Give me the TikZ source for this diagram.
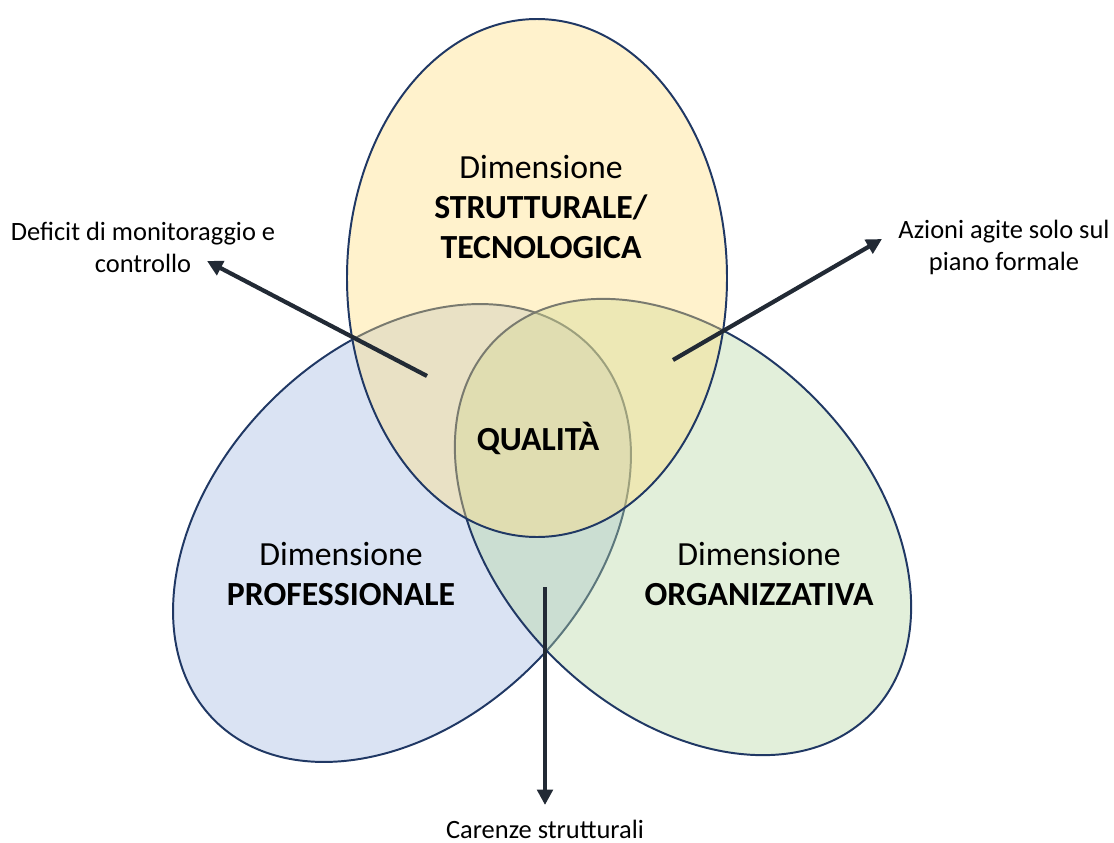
\documentclass[tikz,border=0pt]{standalone}
\usepackage{fontspec}
\setmainfont{Carlito}
\usetikzlibrary{arrows.meta, positioning}

\definecolor{lineNavy}{RGB}{32,56,100}
\definecolor{arrowDark}{RGB}{34,42,53}
\definecolor{fillGold}{RGB}{255,222,128}
\definecolor{fillBlue}{RGB}{162,185,225}
\definecolor{fillGreen}{RGB}{182,215,162}

\begin{document}
\begin{tikzpicture}[
  x=0.025cm, y=-0.025cm,
  >={Triangle[length=11pt, width=11pt]},  % Arrow tip
  % Define shape styles
  dimshape/.style={
    draw=lineNavy,
    line width=1.4pt,
    fill opacity=0.4
  },
  % Text styles
  dimtext/.style={
    align=center,
    font=\fontsize{24}{28.5}\selectfont
  },
  notetext/.style={
    align=center,
    font=\fontsize{18.8}{22.7}\selectfont
  },
  % Arrows style
  pointer/.style={
    ->,
    draw=arrowDark,
    line width=3pt
  }
]
\useasboundingbox (0,0) rectangle (1114,843);

% -----------------------------------------------
% DIMENSIONS (drawn bottom to top)
% -----------------------------------------------
\draw[dimshape, fill=fillBlue, rotate around={45:(402,533)}]
  (402,533) ellipse [x radius=265, y radius=186];
\draw[dimshape, fill=fillGreen, rotate around={-45:(683,527)}]
  (683,527) ellipse [x radius=265, y radius=184];
\draw[dimshape, fill=fillGold] (537,278) ellipse [x radius=190, y radius=259];

% -----------------------------------------------
% DIMENSION TEXTS
% -----------------------------------------------
\node[dimtext] (strutText) at (541,207) {Dimensione\\\textbf{STRUTTURALE/}\\\textbf{TECNOLOGICA}};
\node[dimtext] (profText) at (341,574) {Dimensione\\\textbf{PROFESSIONALE}};
\node[dimtext] (orgText) at (759,574) {Dimensione\\\textbf{ORGANIZZATIVA}};
\node[dimtext] (qualText) at (538,438) {\textbf{QUALITÀ}};

% -----------------------------------------------
% NOTES
% -----------------------------------------------
\node[notetext] (deficitNote) at (143,247) {Deficit di monitoraggio e\\controllo};
\node[notetext] (azioniNote) at (1004,247) {Azioni agite solo sul\\piano formale};
\node[notetext] (carenzeNote) at (545,829) {Carenze strutturali};

% -----------------------------------------------
% ARROWS
% -----------------------------------------------
\coordinate (deficitStart) at (427,376);
\coordinate (deficitTip) at (207,261);
\coordinate (azioniStart) at (673,360);
\coordinate (azioniTip) at (882,239);
\coordinate (carenzeStart) at (545,587);
\coordinate (carenzeTip) at (545,805);

\draw[pointer] (deficitStart) -- (deficitTip);
\draw[pointer] (azioniStart) -- (azioniTip);
\draw[pointer] (carenzeStart) -- (carenzeTip);

\end{tikzpicture}
\end{document}
